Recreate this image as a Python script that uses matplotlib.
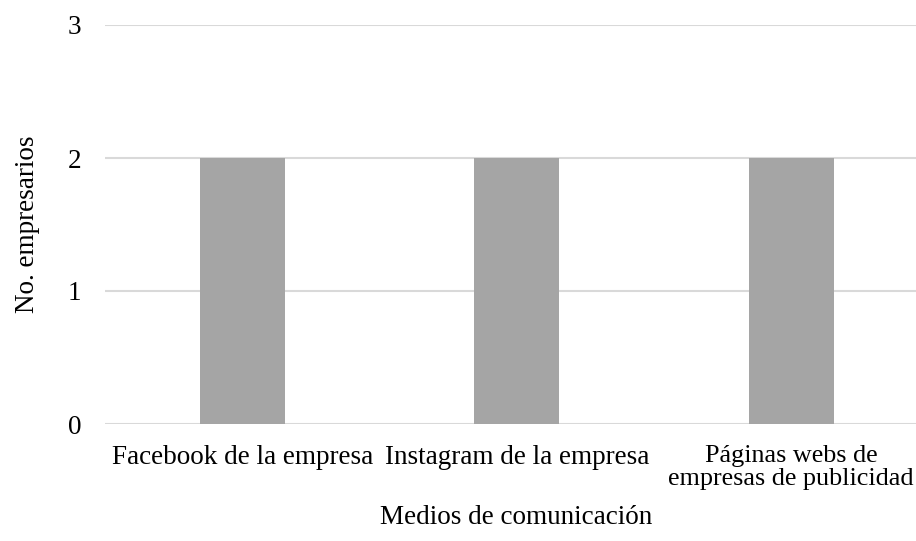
import matplotlib.pyplot as plt

plt.rcParams['font.family'] = ['Liberation Serif', 'DejaVu Serif']

# Datos del grafico
medios = ["Facebook de la empresa", "Instagram de la empresa",
          "Páginas webs de\nempresas de publicidad"]
empresarios = [2, 2, 2]
ticks_y = [0, 1, 2, 3]

fig = plt.figure(figsize=(9.16, 5.41), dpi=100)
ax = fig.add_axes([105/916, 117/541, 823.5/916, 399/541])

ax.bar(range(len(medios)), empresarios, width=0.31, color="#A5A5A5", zorder=3)
ax.set_xlim(-0.5, 2.5)
ax.set_ylim(0, 3)
ax.set_yticks(ticks_y)
ax.set_xticks(range(len(medios)))
ax.set_xticklabels(medios, fontsize=19.5, linespacing=0.95)
# la ultima etiqueta llega al borde, un pelo mas chica para que no se corte
ult = ax.get_xticklabels()[-1]
ult.set_fontsize(18.8)
ult.set_linespacing(1.05)
ax.tick_params(axis='y', labelsize=19.5, length=0, pad=17)
ax.tick_params(axis='x', length=0, pad=15)
ax.yaxis.grid(True, color="#D9D9D9", linewidth=1.5, zorder=0)
for s in ax.spines.values():
    s.set_visible(False)

ax.set_ylabel("No. empresarios", fontsize=19.5, labelpad=20)
fig.text(516/916, 1 - 518/541, "Medios de comunicación", fontsize=19.5,
         ha='center', va='center')

fig.savefig("out.png", dpi=100)
